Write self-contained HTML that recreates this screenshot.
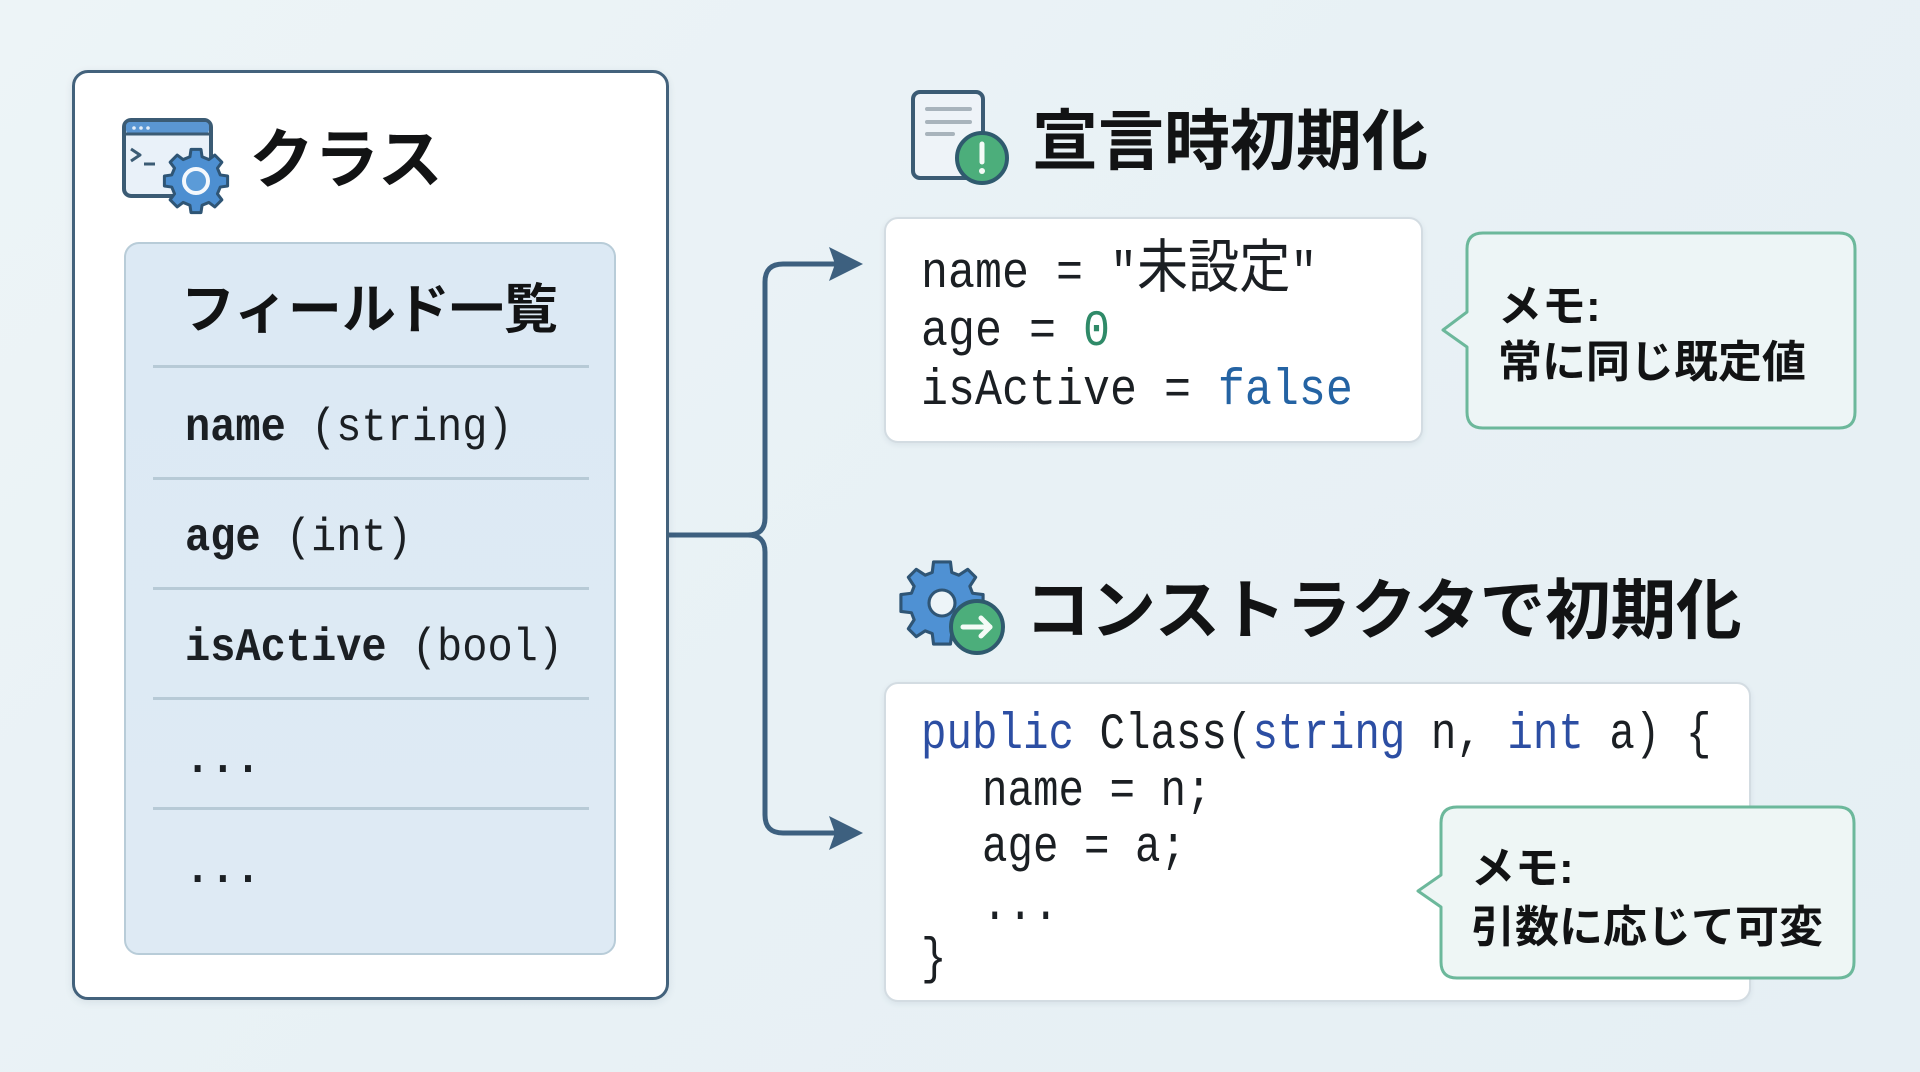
<!DOCTYPE html>
<html>
<head>
<meta charset="utf-8">
<style>
  html,body{margin:0;padding:0;}
  body{width:1920px;height:1072px;position:relative;overflow:hidden;
    background:linear-gradient(135deg,#edf4f7 0%,#e8f1f5 50%,#e6eff4 100%);
    font-family:"Liberation Sans","Noto Sans CJK JP",sans-serif;color:#141618;}
  .abs{position:absolute;}
  .jp{font-family:"Liberation Sans","Noto Sans CJK JP",sans-serif;font-weight:700;white-space:nowrap;color:#121314;}
  .mono{font-family:"Liberation Mono","Noto Sans CJK JP",monospace;white-space:pre;transform-origin:0 0;color:#1b1f23;}
  .outer{left:72px;top:70px;width:591px;height:924px;border:3.5px solid #43627c;border-radius:16px;background:#fff;box-shadow:0 2px 8px rgba(40,70,90,0.10);}
  .inner{left:124px;top:242px;width:488px;height:709px;border:2.5px solid #b8ccd8;border-radius:15px;background:linear-gradient(180deg,#dce9f4 0%,#deeaf4 100%);}
  .div{left:153px;width:436px;height:3px;background:#b7cad6;}
  .code{background:#fff;border:2px solid #d3dce2;border-radius:14px;box-shadow:0 2px 6px rgba(40,70,90,0.08);}
  .kw{color:#2c4ea3;}
</style>
</head>
<body>

<!-- connectors -->
<svg class="abs" style="left:0;top:0" width="1920" height="1072">
  <g fill="none" stroke="#3d607f" stroke-width="5" stroke-linecap="round" stroke-linejoin="round">
    <path d="M669 535 H748 Q765 535 765 518 V282 Q765 264 783 264 H836"/>
    <path d="M748 535 Q765 535 765 552 V815 Q765 833 783 833 H836"/>
  </g>
  <polygon points="863,264 829,247 835,264 829,281" fill="#3d607f"/>
  <polygon points="863,833 829,816 835,833 829,850" fill="#3d607f"/>
</svg>

<div class="abs outer"></div>
<div class="abs inner"></div>
<div class="abs div" style="top:365px"></div>
<div class="abs div" style="top:477px"></div>
<div class="abs div" style="top:587px"></div>
<div class="abs div" style="top:697px"></div>
<div class="abs div" style="top:807px"></div>

<div class="abs code" style="left:884px;top:217px;width:535px;height:222px;"></div>
<div class="abs code" style="left:884px;top:682px;width:863px;height:316px;"></div>

<!-- icons and memos -->
<svg class="abs" style="left:0;top:0" width="1920" height="1072">
  <!-- class window icon -->
  <rect x="124" y="120" width="87" height="76" rx="7" fill="#e9f1f9" stroke="#3b5b74" stroke-width="4"/>
  <rect x="126" y="122" width="83" height="12" rx="4" fill="#5a96d2"/>
  <line x1="125" y1="134" x2="210" y2="134" stroke="#3b5b74" stroke-width="3"/>
  <circle cx="134" cy="128" r="1.8" fill="#e4eef8"/>
  <circle cx="141" cy="128" r="1.8" fill="#e4eef8"/>
  <circle cx="148" cy="128" r="1.8" fill="#e4eef8"/>
  <polyline points="131,149 140,155 131,161" fill="none" stroke="#3b5b74" stroke-width="3" stroke-linejoin="round"/>
  <line x1="144" y1="164" x2="155" y2="164" stroke="#3b5b74" stroke-width="3"/>
  <g transform="translate(196,181)">
    <polygon fill="#4d8fd1" stroke="#2f5575" stroke-width="3" stroke-linejoin="round"
      points="24.26,-6.05 31.6,-5 31.6,5 24.26,6.05 21.43,12.88 25.89,18.81 18.81,25.89 12.88,21.43 6.05,24.26 5,31.6 -5,31.6 -6.05,24.26 -12.88,21.43 -18.81,25.89 -25.89,18.81 -21.43,12.88 -24.26,6.05 -31.6,5 -31.6,-5 -24.26,-6.05 -21.43,-12.88 -25.89,-18.81 -18.81,-25.89 -12.88,-21.43 -6.05,-24.26 -5,-31.6 5,-31.6 6.05,-24.26 12.88,-21.43 18.81,-25.89 25.89,-18.81 21.43,-12.88"/>
    <circle r="12" fill="#5b9bd8" stroke="#f4f8fc" stroke-width="4"/>
  </g>

  <!-- doc icon -->
  <rect x="913" y="92" width="70" height="86" rx="7" fill="#eef3f8" stroke="#3b5b74" stroke-width="4"/>
  <g stroke="#a8b3bc" stroke-width="4" stroke-linecap="round">
    <line x1="927" y1="109" x2="970" y2="109"/>
    <line x1="927" y1="122" x2="970" y2="122"/>
    <line x1="927" y1="134" x2="953" y2="134"/>
  </g>
  <circle cx="982" cy="158" r="25" fill="#4cae7b" stroke="#2f5a6e" stroke-width="4"/>
  <line x1="982" y1="144" x2="982" y2="162" stroke="#f4fbf7" stroke-width="5" stroke-linecap="round"/>
  <circle cx="982" cy="171" r="3" fill="#f4fbf7"/>

  <!-- gear icon 2 -->
  <g transform="translate(942,603) scale(1.3)">
    <polygon fill="#4f91d3" stroke="#2f5575" stroke-width="2.4" stroke-linejoin="round"
      points="23.5,-7.5 31.6,-6.5 31.6,6.5 23.5,7.5 21.43,12.88 25.89,19.81 19.81,25.89 12.88,21.43 7.5,23.5 6.5,31.6 -6.5,31.6 -7.5,23.5 -12.88,21.43 -19.81,25.89 -25.89,19.81 -21.43,12.88 -23.5,7.5 -31.6,6.5 -31.6,-6.5 -23.5,-7.5 -21.43,-12.88 -25.89,-19.81 -19.81,-25.89 -12.88,-21.43 -7.5,-23.5 -6.5,-31.6 6.5,-31.6 7.5,-23.5 12.88,-21.43 19.81,-25.89 25.89,-19.81 21.43,-12.88"/>
    <circle r="10" fill="#edf4f8" stroke="#2f5575" stroke-width="2.4"/>
  </g>
  <circle cx="977" cy="627" r="26" fill="#4cae7b" stroke="#2f5a6e" stroke-width="4"/>
  <line x1="963" y1="627" x2="990" y2="627" stroke="#f4fbf7" stroke-width="5" stroke-linecap="round"/>
  <polyline points="981,618 990,627 981,636" fill="none" stroke="#f4fbf7" stroke-width="5" stroke-linecap="round" stroke-linejoin="round"/>

  <!-- memo 1 -->
  <path d="M1483 233 H1839 Q1855 233 1855 249 V412 Q1855 428 1839 428 H1483 Q1467 428 1467 412 V347 L1443 330 L1467 312 V249 Q1467 233 1483 233 Z"
    fill="#edf5f6" stroke="#6cb89b" stroke-width="3" stroke-linejoin="round"/>
  <!-- memo 2 -->
  <path d="M1457 807 H1838 Q1854 807 1854 823 V962 Q1854 978 1838 978 H1457 Q1441 978 1441 962 V907 L1418 891 L1441 875 V823 Q1441 807 1457 807 Z"
    fill="#eef6f5" stroke="#6cb89b" stroke-width="3" stroke-linejoin="round"/>
</svg>

<!-- headings -->
<div class="abs jp" style="left:249px;top:122px;font-size:65px;line-height:76px;">クラス</div>
<div class="abs jp" style="left:181px;top:278px;font-size:54px;line-height:64px;">フィールド一覧</div>
<div class="abs jp" style="left:1032px;top:101px;font-size:66px;line-height:80px;">宣言時初期化</div>
<div class="abs jp" style="left:1025px;top:571px;font-size:65.5px;line-height:80px;">コンストラクタで初期化</div>

<!-- field rows -->
<div class="abs mono" style="left:185px;top:398px;font-size:46px;line-height:60px;transform:scaleX(0.913);"><b>name</b> (string)</div>
<div class="abs mono" style="left:185px;top:508px;font-size:46px;line-height:60px;transform:scaleX(0.913);"><b>age</b> (int)</div>
<div class="abs mono" style="left:185px;top:618px;font-size:46px;line-height:60px;transform:scaleX(0.913);"><b>isActive</b> (bool)</div>
<div class="abs mono" style="left:185px;top:730px;font-size:46px;line-height:60px;transform:scaleX(0.913);"><b>...</b></div>
<div class="abs mono" style="left:185px;top:840px;font-size:46px;line-height:60px;transform:scaleX(0.913);"><b>...</b></div>

<!-- code 1 -->
<div class="abs mono" style="left:921px;top:243px;font-size:51px;line-height:60px;transform:scaleX(0.882);">name = "<span style="font-size:58px;">未設定</span>"</div>
<div class="abs mono" style="left:921px;top:303px;font-size:51px;line-height:60px;transform:scaleX(0.882);">age = <span style="color:#2f8a68;">0</span></div>
<div class="abs mono" style="left:921px;top:362px;font-size:51px;line-height:60px;transform:scaleX(0.882);">isActive = <span style="color:#2463a3;">false</span></div>

<!-- code 2 -->
<div class="abs mono" style="left:921px;top:706px;font-size:51px;line-height:60px;transform:scaleX(0.833);"><span class="kw">public</span> Class(<span class="kw">string</span> n, <span class="kw">int</span> a) {</div>
<div class="abs mono" style="left:982px;top:763px;font-size:51px;line-height:60px;transform:scaleX(0.833);">name = n;</div>
<div class="abs mono" style="left:982px;top:819px;font-size:51px;line-height:60px;transform:scaleX(0.833);">age = a;</div>
<div class="abs mono" style="left:982px;top:877px;font-size:51px;line-height:60px;transform:scaleX(0.833);">...</div>
<div class="abs mono" style="left:921px;top:931px;font-size:51px;line-height:60px;transform:scaleX(0.833);">}</div>

<!-- memo texts -->
<div class="abs jp" style="left:1498px;top:279px;font-size:44px;line-height:56px;">メモ:<br>常に同じ既定値</div>
<div class="abs jp" style="left:1471px;top:839px;font-size:44px;line-height:59px;">メモ:<br>引数に応じて可変</div>

</body>
</html>
